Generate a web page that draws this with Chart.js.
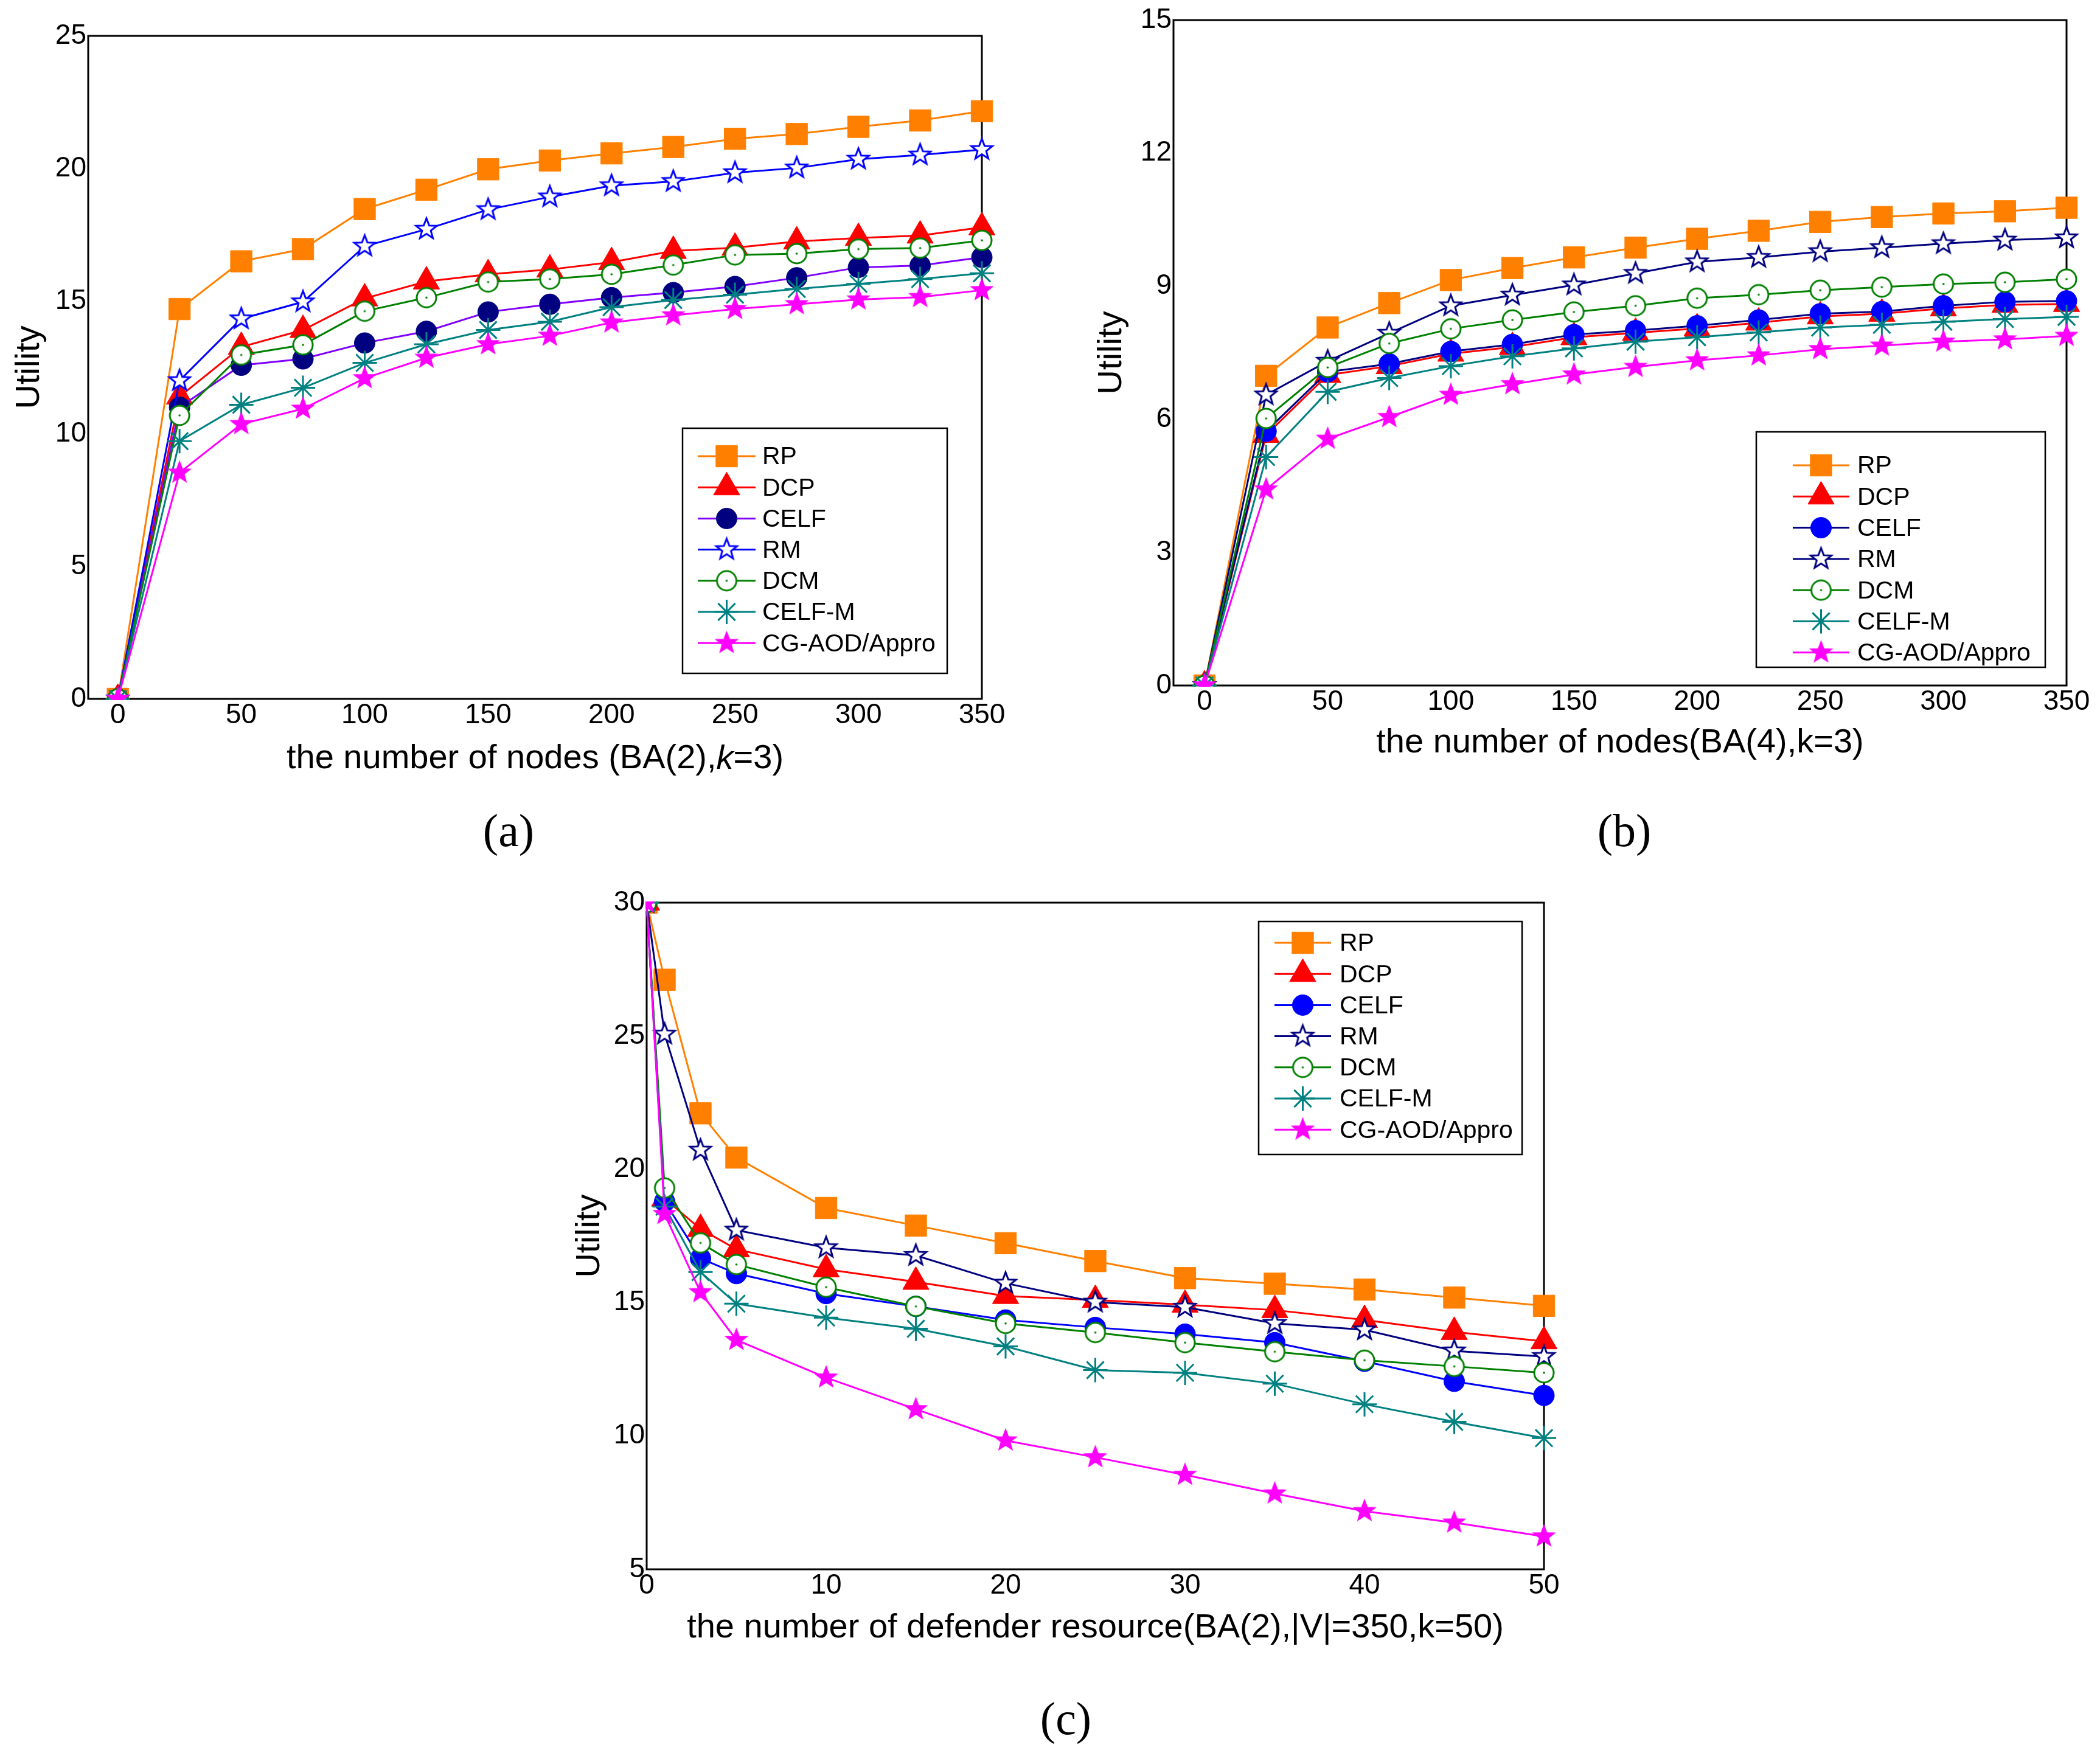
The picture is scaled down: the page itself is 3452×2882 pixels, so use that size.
<!DOCTYPE html>
<html lang="en">
<head>
<meta charset="UTF-8">
<title>Utility vs nodes / defender resource</title>
<script src="https://cdn.jsdelivr.net/npm/chart.js@4.4.1/dist/chart.umd.min.js"></script>
<style>
  html, body { margin: 0; padding: 0; background: #fff; }
  body { width: 3452px; height: 2882px; position: relative; overflow: hidden; }
  .panel { position: absolute; }
  .cap { position: absolute; font-family: "Liberation Serif", "DejaVu Serif", serif; font-size: 76px;
         transform: translate(-50%, -50%); color: #000; }
</style>
</head>
<body>
<div class="panel" style="left:0;top:0;width:1720px;height:1300px"><canvas id="chartA"></canvas></div>
<div class="panel" style="left:1760px;top:0;width:1692px;height:1300px"><canvas id="chartB"></canvas></div>
<div class="panel" style="left:900px;top:1400px;width:1760px;height:1320px"><canvas id="chartC"></canvas></div>
<div class="cap" style="left:836px;top:1365px">(a)</div>
<div class="cap" style="left:2670px;top:1365px">(b)</div>
<div class="cap" style="left:1752px;top:2825px">(c)</div>

<script>
const seriesNames = ['RP', 'DCP', 'CELF', 'RM', 'DCM', 'CELF-M', 'CG-AOD/Appro'];

// (a) BA(2), k=3
const nodesA = [0, 25, 50, 75, 100, 125, 150, 175, 200, 225, 250, 275, 300, 325, 350];
const rpA    = [0, 14.7, 16.5, 16.96, 18.47, 19.2, 19.97, 20.3, 20.57, 20.81, 21.12, 21.3, 21.57, 21.81, 22.16];
const dcpA   = [0, 11.4, 13.27, 13.91, 15.1, 15.74, 16.01, 16.19, 16.47, 16.89, 17.01, 17.25, 17.38, 17.47, 17.78];
const celfA  = [0, 11.0, 12.58, 12.82, 13.42, 13.86, 14.59, 14.88, 15.13, 15.32, 15.55, 15.88, 16.27, 16.34, 16.65];
const rmA    = [0, 12.0, 14.33, 14.97, 17.07, 17.71, 18.45, 18.93, 19.35, 19.51, 19.84, 20.02, 20.35, 20.51, 20.71];
const dcmA   = [0, 10.69, 12.97, 13.35, 14.62, 15.13, 15.72, 15.83, 16.01, 16.36, 16.74, 16.79, 16.96, 17.0, 17.29];
const celfmA = [0, 9.72, 11.09, 11.73, 12.67, 13.37, 13.91, 14.22, 14.77, 15.04, 15.24, 15.46, 15.65, 15.83, 16.05];
const cgA    = [0, 8.53, 10.36, 10.94, 12.09, 12.86, 13.37, 13.69, 14.19, 14.46, 14.7, 14.88, 15.06, 15.15, 15.41];

// (b) BA(4), k=3
const nodesB = [0, 25, 50, 75, 100, 125, 150, 175, 200, 225, 250, 275, 300, 325, 350];
const rpB    = [0, 6.98, 8.07, 8.62, 9.14, 9.41, 9.65, 9.87, 10.07, 10.25, 10.45, 10.56, 10.64, 10.69, 10.77];
const dcpB   = [0, 5.65, 7.0, 7.2, 7.48, 7.63, 7.85, 7.95, 8.05, 8.18, 8.32, 8.38, 8.5, 8.58, 8.6];
const celfB  = [0, 5.73, 7.07, 7.25, 7.53, 7.69, 7.91, 8.0, 8.11, 8.24, 8.38, 8.43, 8.56, 8.65, 8.67];
const rmB    = [0, 6.55, 7.31, 7.94, 8.56, 8.8, 9.03, 9.29, 9.55, 9.65, 9.78, 9.87, 9.96, 10.04, 10.09];
const dcmB   = [0, 6.02, 7.17, 7.71, 8.04, 8.24, 8.42, 8.56, 8.73, 8.81, 8.91, 8.98, 9.05, 9.09, 9.16];
const celfmB = [0, 5.15, 6.62, 6.93, 7.2, 7.42, 7.6, 7.75, 7.85, 7.96, 8.07, 8.13, 8.2, 8.26, 8.31];
const cgB    = [0, 4.42, 5.56, 6.05, 6.55, 6.79, 7.01, 7.18, 7.33, 7.44, 7.58, 7.66, 7.75, 7.8, 7.88];

// (c) defender resource, BA(2), |V|=350
const resC   = [0, 1, 3, 5, 10, 15, 20, 25, 30, 35, 40, 45, 50];
const rpC    = [30, 27.11, 22.1, 20.44, 18.55, 17.89, 17.23, 16.56, 15.92, 15.71, 15.49, 15.19, 14.88];
const dcpC   = [30, 18.9, 17.76, 17.0, 16.25, 15.78, 15.25, 15.1, 14.92, 14.72, 14.35, 13.9, 13.55];
const celfC  = [30, 18.79, 16.66, 16.09, 15.34, 14.86, 14.35, 14.07, 13.82, 13.5, 12.8, 12.05, 11.52];
const rmC    = [30, 25.07, 20.72, 17.72, 17.06, 16.77, 15.73, 15.02, 14.83, 14.22, 13.98, 13.19, 12.98];
const dcmC   = [30, 19.3, 17.24, 16.43, 15.58, 14.86, 14.22, 13.88, 13.5, 13.16, 12.84, 12.61, 12.37];
const celfmC = [30, 18.6, 16.15, 14.96, 14.44, 14.02, 13.36, 12.47, 12.37, 11.96, 11.19, 10.53, 9.92];
const cgC    = [30, 18.32, 15.39, 13.6, 12.19, 11.0, 9.83, 9.2, 8.54, 7.84, 7.18, 6.75, 6.23];

// tick labels
const ticksAx = [0, 50, 100, 150, 200, 250, 300, 350];
const ticksAy = [0, 5, 10, 15, 20, 25];
const ticksBx = [0, 50, 100, 150, 200, 250, 300, 350];
const ticksBy = [0, 3, 6, 9, 12, 15];
const ticksCx = [0, 10, 20, 30, 40, 50];
const ticksCy = [5, 10, 15, 20, 25, 30];

const SANS = '"Liberation Sans", Arial, sans-serif';
Chart.defaults.font.family = SANS;
Chart.defaults.color = '#000';
Chart.defaults.animation = false;

// marker images
function starImg(r, stroke, fill, lw) {
  const s = Math.ceil(2 * (r + lw * 2)) + 2;
  const c = document.createElement('canvas');
  c.width = s; c.height = s;
  const g = c.getContext('2d');
  g.translate(s / 2, s / 2);
  g.beginPath();
  for (let i = 0; i < 10; i++) {
    const rr = i % 2 ? r * 0.42 : r;
    const a = -Math.PI / 2 + i * Math.PI / 5;
    g.lineTo(rr * Math.cos(a), rr * Math.sin(a));
  }
  g.closePath();
  g.fillStyle = fill; g.fill();
  g.lineWidth = lw; g.strokeStyle = stroke; g.stroke();
  return c;
}
function ringImg(r, color, lw) {
  const s = Math.ceil(2 * (r + lw)) + 2;
  const c = document.createElement('canvas');
  c.width = s; c.height = s;
  const g = c.getContext('2d');
  g.translate(s / 2, s / 2);
  g.beginPath(); g.arc(0, 0, r, 0, Math.PI * 2);
  g.fillStyle = '#fff'; g.fill();
  g.lineWidth = lw; g.strokeStyle = color; g.stroke();
  g.beginPath(); g.arc(0, 0, 1.8, 0, Math.PI * 2);
  g.fillStyle = color; g.fill();
  return c;
}

// per-panel series styles
function makeStyles(v) {
  return [
    { line: '#FF8000', ps: 'rect', r: 25, bg: '#FF8000', bc: '#FF8000', bw: 1 },
    { line: '#FF0000', ps: 'triangle', r: 25, bg: '#FF0000', bc: '#FF0000', bw: 1 },
    { line: v.celfLine, ps: 'circle', r: 17, bg: v.celfDot, bc: v.celfDot, bw: 1 },
    { line: v.rm, ps: starImg(18, v.rm, '#fff', 3), r: 18, bg: '#fff', bc: v.rm, bw: 3 },
    { line: '#008000', ps: ringImg(16, '#008000', 3), r: 16, bg: '#fff', bc: '#008000', bw: 3 },
    { line: '#008080', ps: 'star', r: 20, bg: 'rgba(0,0,0,0)', bc: '#008080', bw: 3 },
    { line: '#FF00FF', ps: starImg(18, '#FF00FF', '#FF00FF', 2), r: 18, bg: '#FF00FF', bc: '#FF00FF', bw: 2 }
  ];
}

function drawMark(ctx, st, x, y) {
  ctx.save();
  if (typeof st.ps !== 'string') {
    ctx.drawImage(st.ps, x - st.ps.width / 2, y - st.ps.height / 2);
    ctx.restore();
    return;
  }
  ctx.fillStyle = st.bg; ctx.strokeStyle = st.bc; ctx.lineWidth = st.bw;
  ctx.beginPath();
  const r = st.r;
  if (st.ps === 'rect') {
    const h = Math.SQRT1_2 * r;
    ctx.rect(x - h, y - h, 2 * h, 2 * h);
    ctx.fill(); ctx.stroke();
  } else if (st.ps === 'triangle') {
    for (let i = 0; i < 3; i++) {
      const a = i * 2 * Math.PI / 3;
      ctx.lineTo(x + Math.sin(a) * r, y - Math.cos(a) * r);
    }
    ctx.closePath(); ctx.fill(); ctx.stroke();
  } else if (st.ps === 'circle') {
    ctx.arc(x, y, r, 0, Math.PI * 2);
    ctx.fill(); ctx.stroke();
  } else if (st.ps === 'star') {
    const d = Math.SQRT1_2 * r;
    ctx.moveTo(x - r, y); ctx.lineTo(x + r, y);
    ctx.moveTo(x, y - r); ctx.lineTo(x, y + r);
    ctx.moveTo(x - d, y - d); ctx.lineTo(x + d, y + d);
    ctx.moveTo(x - d, y + d); ctx.lineTo(x + d, y - d);
    ctx.stroke();
  }
  ctx.restore();
}

// frame + legend + optional rich x title
function panelPlugin(p) {
  return {
    id: 'panel',
    beforeDatasetsDraw(chart) {
      const { ctx, chartArea: a } = chart;
      ctx.save();
      ctx.strokeStyle = '#000'; ctx.lineWidth = 3;
      ctx.strokeRect(a.left, a.top, a.right - a.left, a.bottom - a.top);
      ctx.restore();
    },
    afterDatasetsDraw(chart) {
      const { ctx } = chart;
      const L = p.legend;
      ctx.save();
      ctx.fillStyle = '#fff';
      ctx.fillRect(L.x1, L.y1, L.x2 - L.x1, L.y2 - L.y1);
      ctx.strokeStyle = '#000'; ctx.lineWidth = 2.5;
      ctx.strokeRect(L.x1, L.y1, L.x2 - L.x1, L.y2 - L.y1);
      ctx.font = '41px ' + SANS;
      ctx.textBaseline = 'middle';
      p.styles.forEach((st, i) => {
        const y = L.row0 + i * L.step;
        ctx.strokeStyle = st.line; ctx.lineWidth = 3;
        ctx.beginPath(); ctx.moveTo(L.lx1, y); ctx.lineTo(L.lx2, y); ctx.stroke();
        drawMark(ctx, st, (L.lx1 + L.lx2) / 2, y);
        ctx.fillStyle = '#000';
        ctx.fillText(seriesNames[i], L.tx, y + 2);
      });
      ctx.restore();
    },
    afterDraw(chart) {
      if (!p.richTitle) return;
      const { ctx, chartArea: a } = chart;
      ctx.save();
      ctx.textBaseline = 'middle';
      ctx.fillStyle = '#000';
      const parts = p.richTitle.parts.map(([t, it]) => {
        ctx.font = (it ? 'italic ' : '') + '56px ' + SANS;
        return { t, it, w: ctx.measureText(t).width };
      });
      let x = (a.left + a.right) / 2 - parts.reduce((s, q) => s + q.w, 0) / 2;
      parts.forEach(q => {
        ctx.font = (q.it ? 'italic ' : '') + '56px ' + SANS;
        ctx.fillText(q.t, x, p.richTitle.y);
        x += q.w;
      });
      ctx.restore();
    }
  };
}

function makeChart(id, p) {
  const datasets = p.series.map((ys, i) => {
    const st = p.styles[i];
    return {
      label: seriesNames[i],
      data: p.xs.map((x, k) => ({ x: x, y: ys[k] })),
      borderColor: st.line,
      borderWidth: 3,
      backgroundColor: st.bg,
      pointStyle: st.ps,
      pointRadius: st.r,
      pointHoverRadius: st.r,
      pointBackgroundColor: st.bg,
      pointBorderColor: st.bc,
      pointBorderWidth: st.bw,
      tension: 0,
      order: 10 - i,
      clip: p.clip
    };
  });
  return new Chart(document.getElementById(id), {
    type: 'line',
    data: { datasets: datasets },
    options: {
      responsive: true,
      maintainAspectRatio: false,
      layout: { padding: p.pad },
      plugins: { legend: { display: false }, tooltip: { enabled: false } },
      scales: {
        x: {
          type: 'linear', min: p.xMin, max: p.xMax,
          afterBuildTicks: s => { s.ticks = p.xTicks.map(v => ({ value: v })); },
          afterFit: s => { s.height = p.xH; },
          grid: { display: false, drawTicks: false },
          border: { display: false },
          ticks: { font: { size: 46 }, padding: 0, maxRotation: 0, autoSkip: false },
          title: p.xTitle ? { display: true, text: p.xTitle, font: { size: 56 }, padding: { top: 0, bottom: p.xTitlePad } } : { display: false }
        },
        y: {
          min: p.yMin, max: p.yMax,
          afterBuildTicks: s => { s.ticks = p.yTicks.map(v => ({ value: v })); },
          afterFit: s => { s.width = p.yW; },
          grid: { display: false, drawTicks: false },
          border: { display: false },
          ticks: { font: { size: 46 }, padding: 3, autoSkip: false },
          title: { display: true, text: 'Utility', font: { size: 56 }, padding: { top: p.yTitlePad, bottom: 0 } }
        }
      }
    },
    plugins: [panelPlugin(p)]
  });
}

const stylesA = makeStyles({ celfLine: '#8000FF', celfDot: '#000080', rm: '#0000FF' });
const stylesB = makeStyles({ celfLine: '#000080', celfDot: '#0000FF', rm: '#000080' });
const stylesC = makeStyles({ celfLine: '#0000FF', celfDot: '#0000FF', rm: '#000080' });

makeChart('chartA', {
  xs: nodesA, series: [rpA, dcpA, celfA, rmA, dcmA, celfmA, cgA], styles: stylesA,
  xMin: -12, xMax: 350, yMin: 0, yMax: 25, xTicks: ticksAx, yTicks: ticksAy,
  pad: { top: 59, right: 106, left: 0, bottom: 0 }, yW: 145, xH: 151,
  yTitlePad: 15, xTitle: null,
  richTitle: { y: 1248, parts: [['the number of nodes (BA(2),', false], ['k', true], ['=3)', false]] },
  clip: { left: false, top: false, right: false, bottom: 2 },
  legend: { x1: 1122, x2: 1557, y1: 704, y2: 1107, row0: 750, step: 51.2, lx1: 1147, lx2: 1242, tx: 1253 }
});

makeChart('chartB', {
  xs: nodesB, series: [rpB, dcpB, celfB, rmB, dcmB, celfmB, cgB], styles: stylesB,
  xMin: -12.6, xMax: 350, yMin: 0, yMax: 15, xTicks: ticksBx, yTicks: ticksBy,
  pad: { top: 33, right: 55, left: 0, bottom: 0 }, yW: 169, xH: 173,
  yTitlePad: 34, xTitle: 'the number of nodes(BA(4),k=3)', xTitlePad: 45,
  clip: { left: false, top: false, right: false, bottom: 2 },
  legend: { x1: 1127, x2: 1602, y1: 710, y2: 1097, row0: 765, step: 51.3, lx1: 1187, lx2: 1280, tx: 1293 }
});

makeChart('chartC', {
  xs: resC, series: [rpC, dcpC, celfC, rmC, dcmC, celfmC, cgC], styles: stylesC,
  xMin: 0, xMax: 50, yMin: 5, yMax: 30, xTicks: ticksCx, yTicks: ticksCy,
  pad: { top: 84, right: 122, left: 0, bottom: 0 }, yW: 163, xH: 140,
  yTitlePad: 36, xTitle: 'the number of defender resource(BA(2),|V|=350,k=50)', xTitlePad: 10,
  clip: { left: 2, top: 2, right: false, bottom: false },
  legend: { x1: 1169, x2: 1602, y1: 115, y2: 498, row0: 150, step: 51.2, lx1: 1195, lx2: 1288, tx: 1302 }
});
</script>
</body>
</html>
